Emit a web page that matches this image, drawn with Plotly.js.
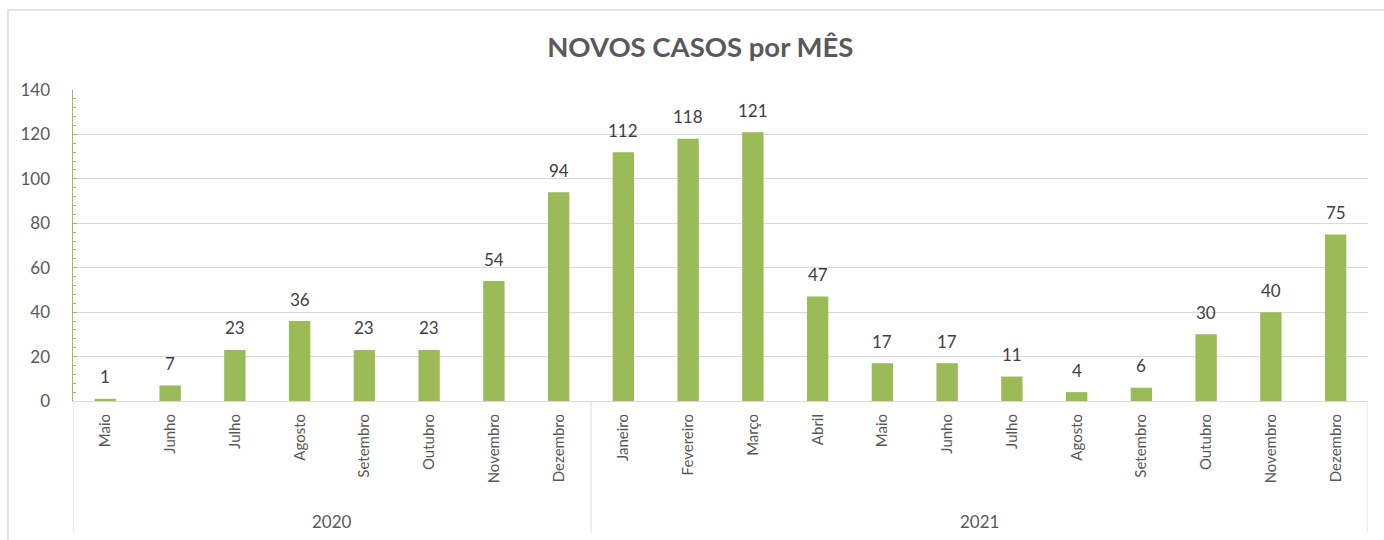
<!DOCTYPE html>
<html>
<head>
<meta charset="utf-8">
<script src="https://cdn.plot.ly/plotly-3.0.1.min.js"></script>
<style>
  body { margin: 0; background: #fff; }
  #bar-plot { width: 1384px; height: 540px; }
</style>
</head>
<body>
<div id="bar-plot"></div>
<script>
// months and new cases per month
var months = ["Maio", "Junho", "Julho", "Agosto", "Setembro", "Outubro", "Novembro", "Dezembro",
    "Janeiro", "Fevereiro", "Março", "Abril", "Maio", "Junho", "Julho", "Agosto",
    "Setembro", "Outubro", "Novembro", "Dezembro"];
var cases = [1, 7, 23, 36, 23, 23, 54, 94, 112, 118, 121, 47, 17, 17, 11, 4, 6, 30, 40, 75];
var years = ["2020", "2021"];
var monthsPerYear = [8, 12];

// numeric positions so repeated month names stay separate
var positions = months.map((m, i) => i);

var trace = {
    x: positions,
    y: cases,
    type: "bar",
    marker: {color: "#9BBB59"},
    hoverinfo: "none"
};
var data = [trace];

// value labels above each bar
var annotations = cases.map((v, i) => ({
    text: String(v), xref: "x", yref: "y",
    x: positions[i], y: v,
    showarrow: false, yanchor: "middle", yshift: 22,
    font: {family: "Lato, sans-serif", size: 17, color: "#404040"}
}));

// year group labels and divider lines under the month labels
var shapes = [];
var start = 0;
years.forEach((yr, i) => {
    var end = start + monthsPerYear[i];
    annotations.push({
        text: yr, xref: "x", yref: "paper",
        x: (start + end - 1) / 2, y: -0.386,
        showarrow: false, yanchor: "middle",
        font: {family: "Lato, sans-serif", size: 17, color: "#595959"}
    });
    shapes.push({
        type: "line", xref: "x", yref: "paper",
        x0: start - 0.5, x1: start - 0.5, y0: 0, y1: -0.424,
        line: {color: "#d9d9d9", width: 1}
    });
    start = end;
});
shapes.push({
    type: "line", xref: "x", yref: "paper",
    x0: start - 0.5, x1: start - 0.5, y0: 0, y1: -0.424,
    line: {color: "#d9d9d9", width: 1}
});
// chart border
shapes.push({
    type: "rect", xref: "paper", yref: "paper",
    x0: -0.0502, x1: 1.1, y0: -0.6, y1: 1.2572,
    line: {color: "#d9d9d9", width: 1.5}, layer: "below"
});

var layout = {
    width: 1384,
    height: 540,
    margin: {l: 73, r: 16, t: 90, b: 139},
    paper_bgcolor: "#fff",
    plot_bgcolor: "#fff",
    bargap: 0.67,
    showlegend: false,
    title: {
        text: "<b>NOVOS CASOS por MÊS</b>",
        x: 0.506, xref: "container",
        y: 0.913, yref: "container", yanchor: "middle",
        font: {family: "Lato, sans-serif", size: 27.5, color: "#595959"}
    },
    xaxis: {
        tickvals: positions,
        ticktext: months,
        tickangle: -90,
        range: [-0.5, months.length - 0.5],
        showgrid: false,
        zeroline: false,
        showline: true,
        linecolor: "#d9d9d9",
        linewidth: 1,
        ticks: "",
        ticklabelstandoff: 6,
        tickfont: {family: "Lato, sans-serif", size: 15, color: "#595959"}
    },
    yaxis: {
        range: [0, 140],
        dtick: 20,
        showgrid: true,
        gridcolor: "#d9d9d9",
        gridwidth: 1,
        zeroline: false,
        showline: true,
        linecolor: "#9BBB59",
        linewidth: 1.5,
        ticks: "inside",
        ticklen: 4,
        tickcolor: "#9BBB59",
        minor: {dtick: 4, ticks: "inside", ticklen: 3, tickcolor: "#9BBB59", showgrid: false},
        ticklabelstandoff: 18,
        tickfont: {family: "Lato, sans-serif", size: 17, color: "#595959"}
    },
    annotations: annotations,
    shapes: shapes
};
Plotly.newPlot("bar-plot", data, layout, {displayModeBar: false, staticPlot: true});
</script>
</body>
</html>
